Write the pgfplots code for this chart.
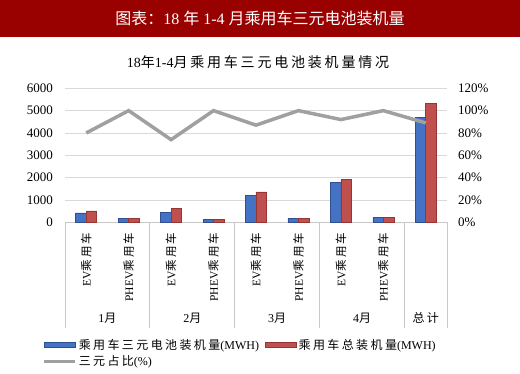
\documentclass[border=0pt]{standalone}
\usepackage{pgfplots}
\pgfplotsset{compat=1.18}
\usepackage{fontspec}
\setmainfont{Liberation Serif}
\newfontfamily\cjk[LetterSpace=20]{Noto Sans CJK SC}
\newfontfamily\cjkn{Noto Sans CJK SC}
\definecolor{banner}{HTML}{990000}
\definecolor{barblue}{HTML}{4472C4}
\definecolor{barblueE}{HTML}{2F4F8F}
\definecolor{barred}{HTML}{C0504D}
\definecolor{barredE}{HTML}{963634}
\definecolor{linegray}{HTML}{A0A0A0}
\definecolor{gridgray}{HTML}{D9D9D9}
\definecolor{sepgray}{HTML}{C8C8C8}
\pgfplotsset{
  barleg/.style={legend image code/.code={\draw[##1,/tikz/.cd] (0pt,-2.5pt) rectangle (31pt,2.5pt);}},
  lineleg/.style={legend image code/.code={\draw[##1] (0pt,0pt) -- (31pt,0pt);}},
}
\begin{document}
\begin{tikzpicture}
\useasboundingbox (0,0) rectangle (520pt,373pt);
\fill[banner] (0,336pt) rectangle (520pt,373pt);
\node[text=white, font=\fontsize{16}{16}\selectfont] at (260pt,355pt) {{\cjkn 图表：}18 {\cjkn 年} 1-4 {\cjkn 月乘用车三元电池装机量}};
\node[font=\fontsize{14}{14}\selectfont] at (258pt,311pt) {18{\cjk 年}1-4{\cjk 月乘用车三元电池装机量情况}};
\begin{axis}[
  at={(65pt,150.7pt)}, anchor=south west,
  scale only axis, width=382pt, height=134pt,
  xmin=-0.5, xmax=8.5, ymin=0, ymax=6000,
  ytick={0,1000,...,6000},
  axis y line*=left, axis x line*=bottom,
  y axis line style={draw=none},
  x axis line style={draw=sepgray, line width=0.8pt},
  ymajorgrids, grid style={gridgray, line width=0.8pt},
  major tick length=0pt,
  xtick={0,...,8},
  xticklabels={EV{\cjk 乘用车},PHEV{\cjk 乘用车},EV{\cjk 乘用车},PHEV{\cjk 乘用车},EV{\cjk 乘用车},PHEV{\cjk 乘用车},EV{\cjk 乘用车},PHEV{\cjk 乘用车},{}},
  xticklabel style={rotate=90, anchor=east, font=\fontsize{11.5}{11.5}\selectfont, inner sep=0pt},
  xticklabel shift=10pt,
  yticklabel style={font=\fontsize{13}{13}\selectfont, inner sep=0pt, xshift=-12pt},
  ybar=0pt, bar width=10.5pt,
  clip=false,
  /pgf/number format/assume math mode=true,
  /pgf/number format/1000 sep={},
  legend style={at={(-0.06,-0.856)}, anchor=north west, draw=none, fill=none,
    font=\fontsize{12}{12}\selectfont, inner sep=0pt, row sep=1pt,
    /tikz/every even column/.append style={column sep=4pt}},
  legend columns=2, legend cell align=left,
]
\addplot[fill=barblue, draw=barblueE, line width=0.6pt, barleg]
  coordinates {(0,420) (1,160) (2,448) (3,118) (4,1190) (5,180) (6,1791) (7,224) (8,4702)};
\addlegendentry{{\cjk 乘用车三元电池装机量}(MWH)}
\addplot[fill=barred, draw=barredE, line width=0.6pt, barleg]
  coordinates {(0,510) (1,160) (2,610) (3,120) (4,1357) (5,180) (6,1925) (7,224) (8,5311)};
\addlegendentry{{\cjk 乘用车总装机量}(MWH)}
\addlegendimage{linegray, line width=3.5pt, lineleg}
\addlegendentry{{\cjk 三元占比}(\%)}
\draw[sepgray, line width=0.8pt] (axis cs:-0.5,0) -- ([yshift=-106pt]axis cs:-0.5,0);
\draw[sepgray, line width=0.8pt] (axis cs:1.5,0) -- ([yshift=-106pt]axis cs:1.5,0);
\draw[sepgray, line width=0.8pt] (axis cs:3.5,0) -- ([yshift=-106pt]axis cs:3.5,0);
\draw[sepgray, line width=0.8pt] (axis cs:5.5,0) -- ([yshift=-106pt]axis cs:5.5,0);
\draw[sepgray, line width=0.8pt] (axis cs:7.5,0) -- ([yshift=-106pt]axis cs:7.5,0);
\draw[sepgray, line width=0.8pt] (axis cs:8.5,0) -- ([yshift=-106pt]axis cs:8.5,0);
\node[font=\fontsize{12}{12}\selectfont] at ([yshift=-96pt]axis cs:0.5,0) {1{\cjk 月}};
\node[font=\fontsize{12}{12}\selectfont] at ([yshift=-96pt]axis cs:2.5,0) {2{\cjk 月}};
\node[font=\fontsize{12}{12}\selectfont] at ([yshift=-96pt]axis cs:4.5,0) {3{\cjk 月}};
\node[font=\fontsize{12}{12}\selectfont] at ([yshift=-96pt]axis cs:6.5,0) {4{\cjk 月}};
\node[font=\fontsize{12}{12}\selectfont] at ([yshift=-96pt]axis cs:8,0) {{\cjk 总计}};
\end{axis}
\begin{axis}[
  at={(65pt,150.7pt)}, anchor=south west,
  scale only axis, width=382pt, height=134pt,
  xmin=-0.5, xmax=8.5, ymin=0, ymax=120,
  axis y line*=right, axis x line=none,
  y axis line style={draw=none},
  major tick length=0pt,
  ytick={0,20,...,120},
  yticklabel={\pgfmathprintnumber{\tick}\%},
  yticklabel style={font=\fontsize{13}{13}\selectfont, inner sep=0pt, xshift=11pt},
  /pgf/number format/assume math mode=true,
  clip=false,
]
\addplot[linegray, line width=3.5pt] coordinates {(0,80) (1,100) (2,74) (3,100) (4,87) (5,100) (6,92) (7,100) (8,89)};
\end{axis}
\end{tikzpicture}
\end{document}
